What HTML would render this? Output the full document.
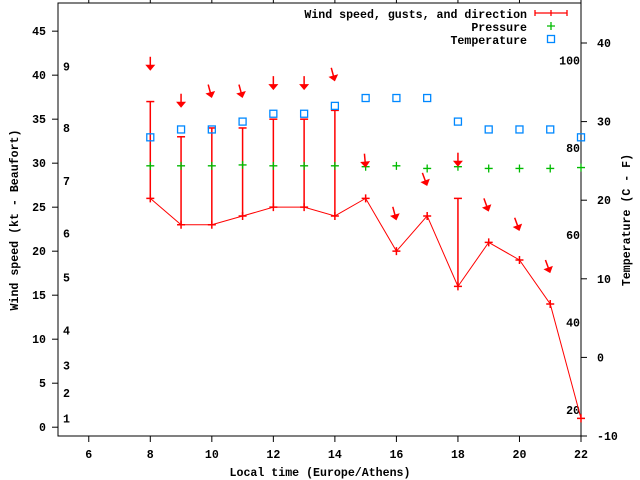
<!DOCTYPE html>
<html><head><meta charset="utf-8"><style>
body{margin:0;background:#fff}
svg{display:block}
text{font-family:"Liberation Mono",monospace;font-weight:bold;font-size:11.6px;fill:#000}
</style></head><body>
<svg id="c" width="640" height="480">
<rect x="0" y="0" width="640" height="480" fill="#fff"/>
<g id="g"></g>
</svg>
<script>
const hours=[8,9,10,11,12,13,14,15,16,17,18,19,20,21,22];
const speed=[26,23,23,24,25,25,24,26,20,24,16,21,19,14,1];
const gustHours=[8,9,10,11,12,13,14,18];
const gusts=[37,33,34,34,35,35,36,26];
const tempC=[28,29,29,30,31,31,32,33,33,33,30,29,29,29,28];
const pressure=[29.7,29.7,29.7,29.8,29.7,29.7,29.7,29.6,29.7,29.4,29.6,29.4,29.4,29.4,29.5];
const arrowHours=[8,9,10,11,12,13,14,15,16,17,18,19,20,21];
const arrowPos=[40.5,36.3,37.4,37.4,38.3,38.3,39.3,29.5,23.5,27.4,29.6,24.5,22.3,17.5];
const arrowDir=[0,0,345,345,0,0,345,355,345,340,0,340,340,340];
const xTicks=[6,8,10,12,14,16,18,20,22];
const yTicks=[0,5,10,15,20,25,30,35,40,45];
const tTicks=[-10,0,10,20,30,40];
const fTicks=[20,40,60,80,100];
const bft=[[1,1],[2,3.9],[3,7],[4,11],[5,17],[6,22],[7,28],[8,34],[9,41]];

const L=58,R=581,T=3,B=436;
const X=v=>L+(v-5)/(22-5)*(R-L);
const Y=v=>B-(v+1)/(48.2+1)*(B-T);
const YT=c=>B-(c+10)/10*78.6;
const NS='http://www.w3.org/2000/svg';
const g=document.getElementById('g');
function el(t,a,txt){const e=document.createElementNS(NS,t);for(const k in a)e.setAttribute(k,a[k]);if(txt!==undefined)e.textContent=txt;g.appendChild(e);return e;}

let e=el('rect',{x:L,y:T,width:R-L,height:B-T,fill:'none',stroke:'#000','stroke-width':1});


xTicks.forEach(v=>{
 el('line',{x1:X(v),x2:X(v),y1:B,y2:B+6,stroke:'#000'});
 el('line',{x1:X(v),x2:X(v),y1:T,y2:T-6,stroke:'#000'});
 const t=el('text',{x:X(v),y:B+22,'text-anchor':'middle'},v);
 
 
});
yTicks.forEach(v=>{
 el('line',{x1:L-6,x2:L,y1:Y(v),y2:Y(v),stroke:'#000'});
 const t=el('text',{x:L-12,y:Y(v)+4,'text-anchor':'end'},v);
 
 
});
tTicks.forEach(v=>{
 el('line',{x1:R,x2:R+6,y1:YT(v),y2:YT(v),stroke:'#000'});
 const t=el('text',{x:R+16,y:YT(v)+4},v);
 
 
});
fTicks.forEach(v=>{
 const t=el('text',{x:R-1,y:YT((v-32)*5/9)+4,'text-anchor':'end'},v);
 
 
});
bft.forEach(b=>{
 const t=el('text',{x:L+5,y:Y(b[1])+4},b[0]);
 
 
});
gustHours.forEach((h,i)=>{
 const s=speed[hours.indexOf(h)];
 const l=el('line',{x1:X(h),x2:X(h),y1:Y(s),y2:Y(gusts[i]),stroke:'#f00','stroke-width':1.5});
 
 
 el('line',{x1:X(h)-4,x2:X(h)+4,y1:Y(gusts[i]),y2:Y(gusts[i]),stroke:'#f00','stroke-width':1.5});
});
let d=hours.map((h,i)=>(i?'L':'M')+X(h)+','+Y(speed[i])).join('');
e=el('path',{d:d,fill:'none',stroke:'#f00','stroke-width':1});


hours.forEach((h,i)=>{
 const x=X(h),y=Y(speed[i]);
 e=el('path',{d:`M${x-4},${y}h8M${x},${y-4}v8`,stroke:'#f00','stroke-width':1.5});
 
 
});
hours.forEach((h,i)=>{
 const x=X(h),y=Y(pressure[i]);
 e=el('path',{d:`M${x-4},${y}h8M${x},${y-4}v8`,stroke:'#0b0','stroke-width':1.3});
 
 
});
hours.forEach((h,i)=>{
 e=el('rect',{x:X(h)-3.5,y:YT(tempC[i])-3.5,width:7,height:7,fill:'none',stroke:'#08f','stroke-width':1.3});
 
 
});
arrowHours.forEach((h,i)=>{
 const x=X(h),y=Y(arrowPos[i]);
 const a=el('g',{transform:`translate(${x},${y}) rotate(${arrowDir[i]})`});
 
 
 const ln=document.createElementNS(NS,'line');
 ln.setAttribute('x1',0);ln.setAttribute('y1',-14);ln.setAttribute('x2',0);ln.setAttribute('y2',-4);
 ln.setAttribute('stroke','#f00');ln.setAttribute('stroke-width',1.5);a.appendChild(ln);
 const p=document.createElementNS(NS,'path');
 p.setAttribute('d','M-5,-6L5,-6L0,0Z');p.setAttribute('fill','#f00');a.appendChild(p);
 g.appendChild(a);
});
const lg=[['Wind speed, gusts, and direction',17],['Pressure',30],['Temperature',43]];
lg.forEach((l,i)=>{
 const t=el('text',{x:527,y:l[1]+1,'text-anchor':'end'},l[0]);
 
 
});
el('path',{d:'M535,13H567M535,10v6M567,10v6M551,10v6',stroke:'#f00','stroke-width':1.3,fill:'none'});
el('path',{d:'M547,26h8M551,22v8',stroke:'#0b0','stroke-width':1.3});
el('rect',{x:547.5,y:35.5,width:7,height:7,fill:'none',stroke:'#08f','stroke-width':1.3});
e=el('text',{x:320,y:476,'text-anchor':'middle'},'Local time (Europe/Athens)');


e=el('text',{x:18,y:220,'text-anchor':'middle',transform:'rotate(-90 18 220)'},'Wind speed (kt - Beaufort)');


e=el('text',{x:630,y:220,'text-anchor':'middle',transform:'rotate(-90 630 220)'},'Temperature (C - F)');


</script>
</body></html>
